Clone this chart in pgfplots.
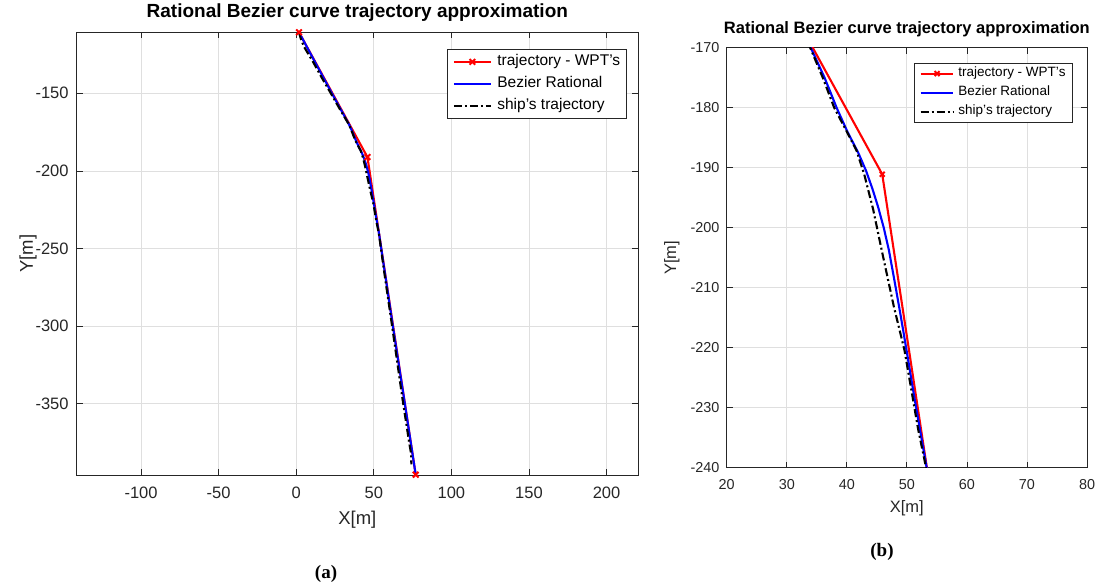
\documentclass[border=0pt]{standalone}
\usepackage{pgfplots}
\pgfplotsset{compat=1.18}
\usepackage{fontspec}
\setmainfont{Liberation Sans}
\newfontfamily\capfont{Liberation Serif}
\definecolor{axgray}{HTML}{262626}
\definecolor{gridgray}{HTML}{DFDFDF}
\newcommand\fs[1]{\fontsize{#1}{#1}\selectfont}

\pgfplotstableread{
x y
1.8 -110.7
45.9 -191.1
77 -395.7
}\wpt
\pgfplotstableread{
x y
1.8 -110.7
12.2 -130
23.0 -150
28.5 -160
34.0 -170
36.3 -175
38.3 -180
40.1 -184
41.9 -187.5
43.2 -190.5
44.26 -193.5
45.2 -196.5
46.15 -200
47.0 -203.7
47.97 -209
49.03 -215
50.04 -221
51.2 -228
52.42 -235
53.3 -240
57.8 -270
62.3 -300
69.7 -348
77 -395.7
}\bez
\pgfplotstableread{
x y
1.8 -110.7
3.0 -115
5.0 -120
8.0 -125
11.0 -130
16.5 -140
22.3 -150
28.0 -160
33.9 -170
36.0 -175
37.9 -180
40.0 -184
41.6 -187.1
42.9 -191.1
44.4 -197
45.8 -203.7
47.8 -213
49.6 -220.4
51.9 -233.7
53.2 -240
57.4 -270
61.8 -300
68.6 -347.6
72.8 -375
74.0 -382
74.2 -389
}\ship

\pgfplotsset{
  mlab/.style={
    scale only axis,
    anchor=south west,
    axis line style={axgray, line width=0.8pt},
    every tick/.style={axgray, line width=0.8pt},
    tick align=inside,
    major tick length=6pt,
    grid=major,
    major grid style={gridgray, line width=0.8pt},
    xticklabel style={text=axgray, inner sep=0pt, anchor=center},
    yticklabel style={text=axgray, inner sep=0pt, anchor=east},
    xlabel style={text=axgray, anchor=center},
    ylabel style={text=axgray, anchor=center},
    title style={anchor=center, text=black},
    legend cell align=left,
  },
  redwp/.style={red, line width=2.1pt, mark=x, mark size=4pt, mark options={solid, line width=2pt}},
  bluebz/.style={blue, line width=2.1pt, no marks},
  blackship/.style={black, line width=2.1pt, no marks, dash pattern=on 8pt off 3pt on 2pt off 3pt},
}

\begin{document}
\begin{tikzpicture}
\path[use as bounding box] (0,0) rectangle (1095pt,586pt);

% ---------- (a) ----------
\begin{axis}[mlab,
  at={(76.8pt,111pt)}, width=561.1pt, height=442.7pt,
  xmin=-141.4, xmax=220.2, ymin=-395.9, ymax=-110.7,
  clip=false,
  xtick={-100,-50,0,50,100,150,200},
  xticklabels={-100,-50,0,50,100,150,200},
  ytick={-350,-300,-250,-200,-150},
  yticklabels={-350,-300,-250,-200,-150},
  xticklabel style={font=\fs{16.5}, yshift=-18pt},
  yticklabel style={font=\fs{16.5}, xshift=-8pt},
  xlabel={X[m]}, ylabel={Y[m]},
  xlabel style={font=\fs{18.5}, at={(axis description cs:0.5,-0.1017)}},
  ylabel style={font=\fs{18.5}, at={(axis description cs:-0.087,0.5)}},
  title={Rational Bezier curve trajectory approximation},
  title style={font=\bfseries\fs{19}, at={(axis description cs:0.5,1.0316)}},
  legend style={at={(0.9806,0.962)}, anchor=north east, draw=axgray, line width=0.6pt,
    fill=white, font=\fs{15.5}, inner xsep=5pt, inner ysep=3.7pt, row sep=4.5pt, column sep=4pt,
    nodes={inner sep=1.5pt, text height=11pt, text depth=3.5pt, text=black}},
  legend image code/.code={\draw[mark repeat=2,mark phase=2,#1] plot coordinates {(0pt,0pt) (18.5pt,0pt) (37pt,0pt)};},
]
\addplot[redwp] table {\wpt};
\addlegendentry{trajectory - WPT's}
\addplot[bluebz] table {\bez};
\addlegendentry{Bezier Rational}
\addplot[blackship] table {\ship};
\addlegendentry{ship's trajectory}
\end{axis}

% ---------- (b) ----------
\begin{axis}[mlab,
  at={(726.7pt,118.3pt)}, width=360.3pt, height=420pt,
  xmin=20, xmax=80, ymin=-240, ymax=-170,
  xtick={20,30,40,50,60,70,80},
  xticklabels={20,30,40,50,60,70,80},
  ytick={-240,-230,-220,-210,-200,-190,-180,-170},
  yticklabels={-240,-230,-220,-210,-200,-190,-180,-170},
  xticklabel style={font=\fs{14.4}, yshift=-17.3pt},
  yticklabel style={font=\fs{14.4}, xshift=-7pt},
  xlabel={X[m]}, ylabel={Y[m]},
  xlabel style={font=\fs{16.5}, at={(axis description cs:0.5,-0.096)}},
  ylabel style={font=\fs{16.5}, at={(axis description cs:-0.152,0.5)}},
  title={Rational Bezier curve trajectory approximation},
  title style={font=\bfseries\fs{16.5}, at={(axis description cs:0.5,1.030)}},
  legend style={at={(0.960,0.964)}, anchor=north east, draw=axgray, line width=0.6pt,
    fill=white, font=\fs{13.5}, inner xsep=5.3pt, inner ysep=2.65pt, row sep=3.3pt, column sep=2.5pt,
    nodes={inner sep=1.5pt, text height=9.7pt, text depth=3pt, text=black}},
  legend image code/.code={\draw[mark repeat=2,mark phase=2,#1] plot coordinates {(0pt,0pt) (16.35pt,0pt) (32.7pt,0pt)};},
]
\addplot[redwp, mark size=3.5pt] table {\wpt};
\addlegendentry{trajectory - WPT's}
\addplot[bluebz] table {\bez};
\addlegendentry{Bezier Rational}
\addplot[blackship] table {\ship};
\addlegendentry{ship's trajectory}
\end{axis}

\node[font=\capfont\bfseries\fs{19}] at (326pt,12pt) {(a)};
\node[font=\capfont\bfseries\fs{19}] at (882pt,34pt) {(b)};
\end{tikzpicture}
\end{document}
